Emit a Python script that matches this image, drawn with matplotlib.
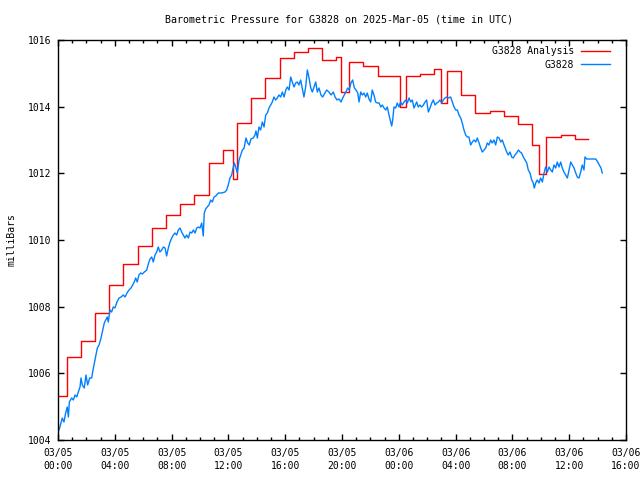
import numpy as np
import matplotlib
matplotlib.use("Agg")
import matplotlib.pyplot as plt

# ============================ DATA ============================
# hours since 2025-03-05 00:00 UTC, pressure in milliBars

# analysis (step line)
analysis_hours = [0.0, 0.6, 1.6, 2.6, 3.6, 4.6, 5.6, 6.6, 7.6, 8.6, 9.6, 10.6,
                  11.6, 12.3, 12.6, 13.6, 14.6, 15.6, 16.6, 17.6, 18.6, 19.6,
                  19.95, 20.5, 21.5, 22.5, 24.1, 24.5, 25.5, 26.5, 27.0, 27.4,
                  28.4, 29.4, 30.4, 31.4, 32.4, 33.4, 33.9, 34.4, 35.4, 36.4,
                  37.3]
analysis_mb = [1005.32, 1006.49, 1006.96, 1007.80, 1008.64, 1009.27, 1009.82,
               1010.35, 1010.74, 1011.07, 1011.35, 1012.30, 1012.70, 1011.82,
               1013.50, 1014.25, 1014.85, 1015.45, 1015.63, 1015.75, 1015.40,
               1015.48, 1014.43, 1015.33, 1015.22, 1014.92, 1013.98, 1014.92,
               1014.98, 1015.12, 1014.12, 1015.07, 1014.35, 1013.80, 1013.87,
               1013.72, 1013.47, 1012.85, 1011.97, 1013.08, 1013.14, 1013.03,
               1013.03]

# station observations
station_hours = [
    0.07, 0.21, 0.30, 0.42, 0.54, 0.65, 0.73, 0.80, 0.96, 1.08, 1.20, 1.32,
    1.43, 1.55, 1.62, 1.71, 1.85, 1.97, 2.09, 2.23, 2.37, 2.44, 2.56, 2.70,
    2.77, 2.89, 3.03, 3.15, 3.26, 3.36, 3.47, 3.54, 3.66, 3.78, 3.89, 4.01,
    4.15, 4.30, 4.44, 4.60, 4.72, 4.86, 5.00, 5.14, 5.26, 5.37, 5.47, 5.58,
    5.70, 5.82, 5.94, 6.08, 6.25, 6.36, 6.48, 6.60, 6.71, 6.83, 6.95, 7.06,
    7.18, 7.30, 7.42, 7.54, 7.65, 7.77, 7.89, 8.01, 8.12, 8.24, 8.36, 8.47,
    8.59, 8.71, 8.82, 8.94, 9.06, 9.18, 9.30, 9.42, 9.53, 9.65, 9.77, 9.88,
    10.00, 10.12, 10.23, 10.30, 10.40, 10.51, 10.63, 10.75, 10.87, 10.99,
    11.11, 11.29, 11.53, 11.76, 11.88, 11.99, 12.11, 12.23, 12.30, 12.42,
    12.51, 12.63, 12.75, 12.87, 12.98, 13.10, 13.24, 13.36, 13.47, 13.59,
    13.75, 13.87, 13.94, 14.04, 14.15, 14.27, 14.39, 14.51, 14.63, 14.74,
    14.86, 14.98, 15.09, 15.21, 15.33, 15.44, 15.56, 15.68, 15.80, 15.92,
    16.04, 16.15, 16.27, 16.39, 16.50, 16.62, 16.74, 16.85, 16.97, 17.09,
    17.20, 17.32, 17.44, 17.56, 17.68, 17.80, 17.91, 18.03, 18.15, 18.26,
    18.38, 18.52, 18.64, 18.80, 18.92, 19.08, 19.23, 19.39, 19.51, 19.65,
    19.79, 19.93, 20.05, 20.16, 20.28, 20.40, 20.51, 20.63, 20.75, 20.87,
    20.99, 21.11, 21.20, 21.32, 21.43, 21.55, 21.67, 21.78, 21.90, 22.02,
    22.13, 22.25, 22.37, 22.49, 22.61, 22.73, 22.84, 22.96, 23.08, 23.19,
    23.31, 23.43, 23.50, 23.57, 23.66, 23.78, 23.89, 24.01, 24.13, 24.25,
    24.37, 24.49, 24.60, 24.72, 24.84, 24.95, 25.07, 25.26, 25.37, 25.49,
    25.61, 25.73, 25.85, 25.96, 26.08, 26.20, 26.32, 26.43, 26.55, 26.67,
    26.78, 26.90, 27.02, 27.13, 27.25, 27.37, 27.49, 27.65, 27.77, 27.89,
    28.01, 28.12, 28.24, 28.36, 28.47, 28.59, 28.71, 28.82, 28.94, 29.06,
    29.18, 29.30, 29.42, 29.53, 29.65, 29.77, 29.88, 30.00, 30.12, 30.23,
    30.35, 30.47, 30.58, 30.70, 30.82, 30.94, 31.06, 31.18, 31.29, 31.41,
    31.60, 31.71, 31.83, 31.95, 32.06, 32.18, 32.30, 32.42, 32.54, 32.65,
    32.77, 32.89, 33.01, 33.12, 33.24, 33.36, 33.47, 33.54, 33.64, 33.75,
    33.87, 33.99, 34.11, 34.23, 34.34, 34.46, 34.58, 34.70, 34.81, 34.93,
    35.05, 35.16, 35.28, 35.40, 35.51, 35.63, 35.75, 35.87, 35.99, 36.11,
    36.22, 36.34, 36.46, 36.57, 36.69, 36.81, 36.92, 37.04, 37.11, 37.23,
    37.58, 37.87, 38.01, 38.12, 38.24, 38.33]
station_mb = [
    1004.30, 1004.51, 1004.66, 1004.54, 1004.81, 1004.99, 1004.69, 1005.14,
    1005.26, 1005.20, 1005.35, 1005.29, 1005.44, 1005.59, 1005.86, 1005.65,
    1005.56, 1005.95, 1005.65, 1005.86, 1005.86, 1006.04, 1006.31, 1006.61,
    1006.76, 1006.85, 1007.06, 1007.30, 1007.51, 1007.60, 1007.69, 1007.54,
    1007.90, 1007.84, 1007.99, 1007.96, 1008.14, 1008.26, 1008.29, 1008.35,
    1008.29, 1008.41, 1008.50, 1008.56, 1008.65, 1008.74, 1008.86, 1008.74,
    1008.95, 1009.01, 1008.98, 1009.04, 1009.10, 1009.28, 1009.43, 1009.49,
    1009.34, 1009.55, 1009.64, 1009.79, 1009.64, 1009.70, 1009.79, 1009.76,
    1009.52, 1009.76, 1009.94, 1010.06, 1010.15, 1010.21, 1010.15, 1010.30,
    1010.36, 1010.24, 1010.15, 1010.06, 1010.15, 1010.06, 1010.24, 1010.21,
    1010.30, 1010.21, 1010.36, 1010.39, 1010.36, 1010.51, 1010.12, 1010.81,
    1010.93, 1010.99, 1011.05, 1011.20, 1011.14, 1011.29, 1011.32, 1011.41,
    1011.41, 1011.44, 1011.50, 1011.65, 1011.86, 1011.95, 1012.10, 1012.31,
    1012.19, 1012.01, 1012.40, 1012.55, 1012.70, 1012.75, 1013.06, 1012.91,
    1012.85, 1013.03, 1013.06, 1013.15, 1013.27, 1013.06, 1013.39, 1013.30,
    1013.54, 1013.39, 1013.75, 1013.81, 1013.96, 1014.05, 1014.14, 1014.29,
    1014.20, 1014.26, 1014.35, 1014.29, 1014.44, 1014.29, 1014.50, 1014.59,
    1014.50, 1014.89, 1014.74, 1014.59, 1014.71, 1014.74, 1014.65, 1014.80,
    1014.56, 1014.29, 1014.59, 1015.10, 1014.86, 1014.56, 1014.44, 1014.59,
    1014.74, 1014.44, 1014.56, 1014.35, 1014.29, 1014.41, 1014.50, 1014.44,
    1014.35, 1014.44, 1014.29, 1014.20, 1014.23, 1014.14, 1014.26, 1014.35,
    1014.44, 1014.56, 1014.50, 1014.71, 1014.80, 1014.56, 1014.50, 1014.41,
    1014.14, 1014.44, 1014.35, 1014.41, 1014.29, 1014.41, 1014.23, 1014.14,
    1014.50, 1014.35, 1014.14, 1014.11, 1014.11, 1013.99, 1014.05, 1013.96,
    1013.90, 1013.99, 1013.75, 1013.54, 1013.42, 1013.60, 1013.99, 1013.96,
    1014.11, 1013.99, 1014.14, 1014.05, 1014.14, 1014.20, 1014.11, 1014.26,
    1014.14, 1014.20, 1013.96, 1014.14, 1013.99, 1014.05, 1013.99, 1014.05,
    1014.14, 1014.20, 1013.84, 1013.96, 1014.11, 1014.20, 1014.05, 1014.11,
    1014.14, 1014.20, 1014.11, 1014.20, 1014.26, 1014.29, 1014.26, 1014.29,
    1014.14, 1013.99, 1013.90, 1013.90, 1013.75, 1013.66, 1013.51, 1013.30,
    1013.15, 1013.09, 1013.09, 1012.85, 1012.94, 1013.00, 1012.94, 1013.06,
    1012.91, 1012.76, 1012.64, 1012.70, 1012.76, 1012.91, 1012.85, 1013.00,
    1012.91, 1013.00, 1012.85, 1013.09, 1013.06, 1012.94, 1013.00, 1012.85,
    1012.64, 1012.55, 1012.64, 1012.49, 1012.46, 1012.55, 1012.61, 1012.70,
    1012.64, 1012.61, 1012.49, 1012.40, 1012.31, 1012.10, 1012.01, 1011.80,
    1011.71, 1011.56, 1011.71, 1011.80, 1011.71, 1011.86, 1011.74, 1012.01,
    1012.19, 1012.04, 1012.19, 1012.10, 1012.04, 1012.25, 1012.16, 1012.34,
    1012.19, 1012.34, 1012.16, 1012.04, 1011.95, 1011.86, 1012.10, 1012.34,
    1012.25, 1012.16, 1012.01, 1011.89, 1011.86, 1012.04, 1012.25, 1012.10,
    1012.49, 1012.43, 1012.43, 1012.43, 1012.34, 1012.25, 1012.16, 1012.01]

xtick_hours = [0, 4, 8, 12, 16, 20, 24, 28, 32, 36, 40]
xtick_labels = ["03/05\n00:00", "03/05\n04:00", "03/05\n08:00", "03/05\n12:00",
                "03/05\n16:00", "03/05\n20:00", "03/06\n00:00", "03/06\n04:00",
                "03/06\n08:00", "03/06\n12:00", "03/06\n16:00"]
ytick_values = [1004, 1006, 1008, 1010, 1012, 1014, 1016]

# ============================ PLOT ============================
plt.rcParams['font.family'] = ['DejaVu Sans Mono']
plt.rcParams['font.size'] = 7

fig = plt.figure(figsize=(6.4, 4.8), dpi=100)
ax = fig.add_axes([58/640, 40/480, 568/640, 400/480])

ax.plot(analysis_hours, analysis_mb, color='#ff0000', lw=1.0,
        drawstyle='steps-post', label='G3828 Analysis')
ax.plot(station_hours, station_mb, color='#0080ff', lw=1.0, label='G3828')

ax.set_xlim(0, 40)
ax.set_ylim(1004, 1016)
ax.set_xticks(xtick_hours)
ax.set_xticklabels(xtick_labels, linespacing=1.3)
ax.set_xticks(np.arange(0, 41, 1), minor=True)
ax.set_yticks(ytick_values)

ax.tick_params(which='both', direction='in', top=True, right=True, width=1.0)
ax.tick_params(which='major', length=4.5)
ax.tick_params(which='minor', length=2.2)
ax.tick_params(axis='x', which='major', pad=6)
ax.tick_params(axis='y', which='major', pad=5)
for s in ax.spines.values():
    s.set_linewidth(1.0)

ax.set_ylabel('milliBars', labelpad=8)
fig.text(0.53, 1 - 19/480, 'Barometric Pressure for G3828 on 2025-Mar-05 (time in UTC)',
         ha='center', va='center', fontsize=7.2)

ax.legend(loc='upper right', bbox_to_anchor=(0.972, 0.984), frameon=False,
          markerfirst=False, handlelength=3.0, handletextpad=0.7,
          labelspacing=0.35, borderaxespad=0, borderpad=0)

fig.savefig('out.png', dpi=100)
